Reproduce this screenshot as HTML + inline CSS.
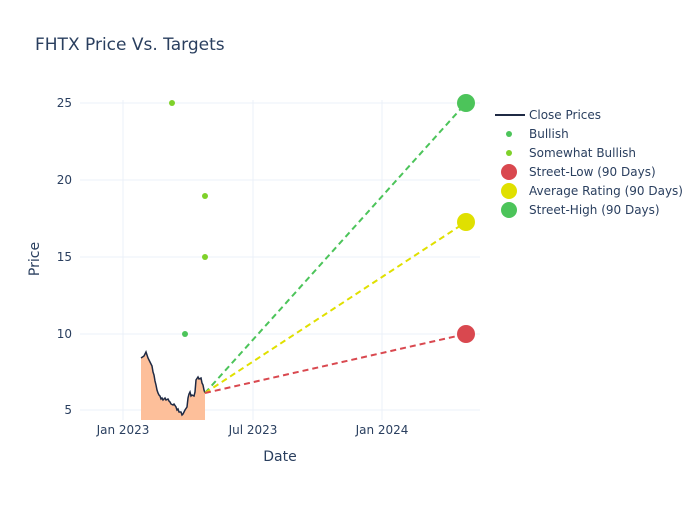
<!DOCTYPE html>
<html><head><style>body{margin:0;background:#fff}</style></head><body>
<svg width="700" height="500" xmlns="http://www.w3.org/2000/svg" font-family="DejaVu Sans, sans-serif">
<rect width="700" height="500" fill="#fff"/>
<text x="35" y="50" font-size="17" fill="#2a3f5f">FHTX Price Vs. Targets</text>
<g stroke="#ebf0f8" stroke-width="1">
<line x1="80" y1="103" x2="480" y2="103"/><line x1="80" y1="180" x2="480" y2="180"/>
<line x1="80" y1="257" x2="480" y2="257"/><line x1="80" y1="334" x2="480" y2="334"/>
<line x1="80" y1="410" x2="480" y2="410"/>
<line x1="123" y1="100" x2="123" y2="420"/><line x1="253" y1="100" x2="253" y2="420"/><line x1="382" y1="100" x2="382" y2="420"/>
</g>
<g font-size="12" fill="#2a3f5f" text-anchor="end">
<text x="72" y="107">25</text><text x="72" y="184">20</text><text x="72" y="261">15</text><text x="72" y="338">10</text><text x="72" y="414">5</text>
</g>
<g font-size="12" fill="#2a3f5f" text-anchor="middle">
<text x="123" y="434">Jan 2023</text><text x="253" y="434">Jul 2023</text><text x="382" y="434">Jan 2024</text>
</g>
<text x="280" y="461" font-size="14" fill="#2a3f5f" text-anchor="middle">Date</text>
<text x="39" y="259" font-size="14" fill="#2a3f5f" text-anchor="middle" transform="rotate(-90 39 259)">Price</text>
<path d="M141,358 L144,356 L146,352 L148,358 L150,362 L152,366 L153,372 L154,375 L155,381 L156,385 L157,390 L158,393 L159,395 L160,396 L161,399 L162,398 L163,400 L165,398 L166,400 L168,399 L169,401 L170,402 L171,404 L173,405 L174,404 L176,407 L177,410 L178,409 L179,412 L181,412 L182,415 L183,414 L185,410 L187,407 L188,398 L189,394 L190,392 L191,396 L192,395 L194,396 L195,392 L196,380 L198,377 L199,379 L201,378 L202,383 L203,385 L204,390 L205,393 L205,420 L141,420 Z" fill="#fdbf9a"/>
<path d="M141,358 L144,356 L146,352 L148,358 L150,362 L152,366 L153,372 L154,375 L155,381 L156,385 L157,390 L158,393 L159,395 L160,396 L161,399 L162,398 L163,400 L165,398 L166,400 L168,399 L169,401 L170,402 L171,404 L173,405 L174,404 L176,407 L177,410 L178,409 L179,412 L181,412 L182,415 L183,414 L185,410 L187,407 L188,398 L189,394 L190,392 L191,396 L192,395 L194,396 L195,392 L196,380 L198,377 L199,379 L201,378 L202,383 L203,385 L204,390 L205,393" fill="none" stroke="#1f2a44" stroke-width="1.5"/>
<g stroke-width="2" stroke-dasharray="6,4" fill="none">
<line x1="205" y1="393" x2="466" y2="103" stroke="#4cc45a"/>
<line x1="205" y1="393" x2="466" y2="222" stroke="#e0e000"/>
<line x1="205" y1="393" x2="466" y2="334" stroke="#d9484f"/>
</g>
<circle cx="172" cy="103" r="3" fill="#7fd12a"/>
<circle cx="205" cy="196" r="3" fill="#7fd12a"/>
<circle cx="205" cy="257" r="3" fill="#7fd12a"/>
<circle cx="185" cy="334" r="3" fill="#4cc45a"/>
<circle cx="466" cy="334" r="9" fill="#d9484f"/>
<circle cx="466" cy="222" r="9" fill="#e0e000"/>
<circle cx="466" cy="103" r="9" fill="#4cc45a"/>
<g font-size="12" fill="#2a3f5f">
<line x1="495" y1="115" x2="525" y2="115" stroke="#1f2a44" stroke-width="2"/><text x="529" y="119">Close Prices</text>
<circle cx="509" cy="134" r="3" fill="#4cc45a"/><text x="529" y="138">Bullish</text>
<circle cx="509" cy="153" r="3" fill="#7fd12a"/><text x="529" y="157">Somewhat Bullish</text>
<circle cx="509" cy="172" r="8" fill="#d9484f"/><text x="529" y="176">Street-Low (90 Days)</text>
<circle cx="509" cy="191" r="8" fill="#e0e000"/><text x="529" y="195">Average Rating (90 Days)</text>
<circle cx="509" cy="210" r="8" fill="#4cc45a"/><text x="529" y="214">Street-High (90 Days)</text>
</g>
</svg>
</body></html>
